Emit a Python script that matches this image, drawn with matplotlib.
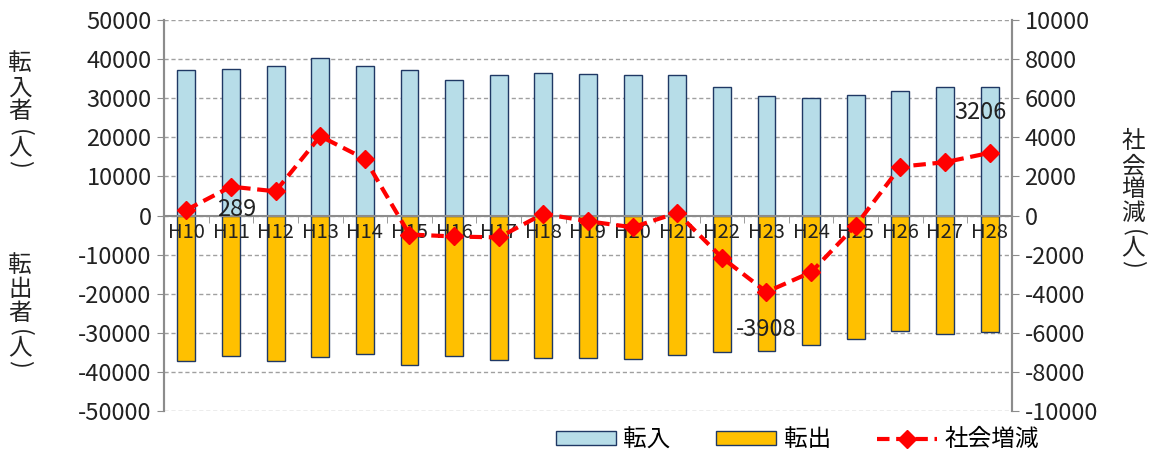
import numpy as np
import matplotlib.pyplot as plt
from matplotlib.ticker import MultipleLocator, FixedLocator

plt.rcParams['font.family'] = ['Noto Sans CJK JP', 'DejaVu Sans']
plt.rcParams['axes.unicode_minus'] = False

years = ["H10", "H11", "H12", "H13", "H14", "H15", "H16", "H17", "H18", "H19",
         "H20", "H21", "H22", "H23", "H24", "H25", "H26", "H27", "H28"]
tennyu = [37200, 37400, 38300, 40400, 38200, 37300, 34650, 35850, 36450, 36100,
          35850, 35850, 32800, 30500, 30000, 30800, 31850, 33000, 32800]
tenshutsu = [-37130, -36020, -37210, -36270, -35340, -38310, -35850, -37040, -36450, -36450,
             -36700, -35760, -35000, -34570, -33040, -31500, -29460, -30390, -29710]
shakai = [289, 1480, 1240, 4060, 2900, -970, -1070, -1120, 90, -290,
          -600, 140, -2150, -3908, -2900, -510, 2500, 2730, 3206]

x = np.arange(len(years))
gray = "#8c8c8c"
tc = "#222222"
fs = 17

fig = plt.figure(figsize=(11.52, 4.54), dpi=100)
ax = fig.add_axes([0.1424, 0.0947, 0.736, 0.861])
ax2 = ax.twinx()

b1 = ax.bar(x, tennyu, width=0.4, color="#b7dde8", edgecolor="#1f3864", linewidth=1, label="転入", zorder=2)
b2 = ax.bar(x, tenshutsu, width=0.4, color="#ffc000", edgecolor="#1f3864", linewidth=1, label="転出", zorder=2)
ln, = ax2.plot(x, shakai, color="#ff0000", linestyle=(0, (3, 1.6)), linewidth=3,
               marker="D", markersize=9, label="社会増減", zorder=3)

ax.set_xlim(-0.5, len(years) - 0.5)
ax.set_ylim(-50000, 50000)
ax2.set_ylim(-10000, 10000)
ax.yaxis.set_major_locator(MultipleLocator(10000))
ax2.yaxis.set_major_locator(MultipleLocator(2000))
ax.grid(axis="y", color="#a0a0a0", linestyle=(0, (3, 2)), linewidth=1, zorder=0)
ax.set_axisbelow(True)

for a in (ax, ax2):
    a.spines["top"].set_visible(False)
    a.spines["bottom"].set_visible(False)
    a.spines["left"].set_color(gray)
    a.spines["right"].set_color(gray)
    a.spines["left"].set_linewidth(1.5)
    a.spines["right"].set_linewidth(1.5)
ax.spines["bottom"].set_visible(True)
ax.spines["bottom"].set_position(("data", 0))
ax.spines["bottom"].set_color(gray)
ax.spines["bottom"].set_linewidth(1.5)
ax.spines["bottom"].set_zorder(2.5)

# category labels drawn on top of the bars
ax.set_xticks(x)
ax.set_xticklabels([])
ax.xaxis.set_minor_locator(FixedLocator(np.arange(-0.5, len(years), 1.0)))
ax.tick_params(axis="x", which="major", length=0)
ax.tick_params(axis="x", which="minor", length=5, direction="out", color=gray)
for i, lab in enumerate(years):
    ax.annotate(lab, (i, 0), xytext=(0, -12), textcoords="offset points",
                ha="center", va="center", fontsize=14.5, color=tc, zorder=5)

ax.tick_params(axis="y", length=5, color=gray, labelsize=fs, labelcolor=tc, pad=4)
ax2.tick_params(axis="y", length=5, color=gray, labelsize=fs, labelcolor=tc, pad=4)

ax2.annotate("289", (x[0], shakai[0]), xytext=(36, 0), textcoords="offset points",
             ha="center", va="center", fontsize=fs, color=tc)
ax2.annotate("3206", (x[-1], shakai[-1]), xytext=(-6.5, 29), textcoords="offset points",
             ha="center", va="center", fontsize=fs, color=tc)
ax2.annotate("-3908", (x[13], shakai[13]), xytext=(0, -27), textcoords="offset points",
             ha="center", va="center", fontsize=fs, color=tc)

# vertical axis titles, one character at a time
def vlabel(chars, xpix, ypix):
    for ch, yp in zip(chars, ypix):
        rot = -90 if ch in "()" else 0
        fig.text(xpix / 1152, 1 - yp / 454, ch, ha="center", va="center",
                 fontsize=fs, color=tc, rotation=rot)

vlabel("転入者(人)", 20, [63, 88, 112, 133, 148, 164])
vlabel("転出者(人)", 20, [265, 290, 313, 333, 348, 364])
vlabel("社会増減(人)", 1133, [142, 167, 190, 213, 233, 248, 264])

fig.legend(handles=[b1, b2, ln], loc="center", bbox_to_anchor=(0.692, 0.031), ncol=3,
           frameon=False, fontsize=fs, handlelength=2.55, handleheight=0.5,
           columnspacing=1.95, handletextpad=0.3)

fig.savefig("out.png", dpi=100)
